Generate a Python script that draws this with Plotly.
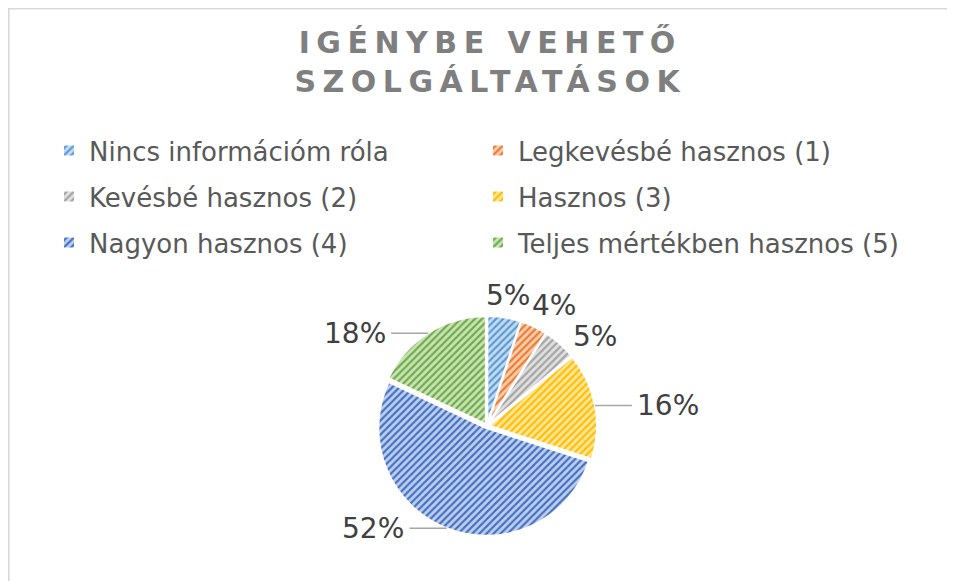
import math
import plotly.graph_objects as go

categories = ["Nincs információm róla", "Legkevésbé hasznos (1)", "Kevésbé hasznos (2)",
              "Hasznos (3)", "Nagyon hasznos (4)", "Teljes mértékben hasznos (5)"]
values = [5, 4, 5, 16, 52, 18]
colors = ["#5b9bd5", "#ed7d31", "#a5a5a5", "#ffc000", "#4472c4", "#70ad47"]
light_colors = ["#c5dcf1", "#f9ceb2", "#e0e0e0", "#ffe6a0", "#c0cfed", "#cbe3bb"]

W, H = 955, 581
cx, cy, r = 479, 418, 110
PULL = 0.02
LABEL_SIZE = 28
LEADER_GAP = 42

fig = go.Figure(go.Pie(
    labels=categories,
    values=values,
    sort=False,
    direction="clockwise",
    rotation=0,
    pull=PULL,
    textinfo="none",
    marker=dict(
        colors=colors,
        line=dict(color="white", width=2),
        pattern=dict(shape="/", fgcolor=colors, bgcolor=light_colors, size=5, solidity=0.45,
                     fillmode="replace"),
    ),
    domain=dict(x=[(cx - r) / W, (cx + r) / W], y=[(H - cy - r) / H, (H - cy + r) / H]),
    hoverinfo="label+percent",
))

# outside percentage labels, placed from each slice's mid-angle (data-driven).
# Small slices: label just outside the rim (nudged clockwise on collision).
# Big slices: label pushed sideways from the rim point, joined by a leader line.
total = sum(values)
r_eff = r / (1 + PULL)
placed = []
annotations = []
leader_shapes = []
cum = 0.0
for v in values:
    mid = (cum + v / 2) / total * 2 * math.pi
    cum += v
    pct = round(v / total * 100)
    txt = f"{pct}%"
    w = len(txt[:-1]) * 0.636 * LABEL_SIZE + 0.95 * LABEL_SIZE
    h = LABEL_SIZE * 1.08
    big = pct >= 10
    th = mid
    for _ in range(90):
        s, c = math.sin(th), math.cos(th)
        if big:
            rx, ry = cx + (r_eff + 2) * s, cy - (r_eff + 2) * c
            px = rx + math.copysign(LEADER_GAP + w / 2, s)
            py = ry
        else:
            d = r_eff + 6 + abs(s) * w / 2 + abs(c) * h / 2
            px, py = cx + d * s, cy - d * c
        if all(abs(px - qx) >= (w + qw) / 2 or abs(py - qy) >= (h + qh) / 2
               for qx, qy, qw, qh in placed):
            break
        th += math.radians(1)
    placed.append((px, py, w, h))
    annotations.append(dict(
        x=px / W, y=1 - py / H, xref="paper", yref="paper",
        text=txt, showarrow=False, xanchor="center", yanchor="middle",
        font=dict(size=LABEL_SIZE, color="#404040", family="DejaVu Sans"),
    ))
    if big:
        ex = px - math.copysign(w / 2 + 5, px - cx)
        leader_shapes.append(dict(
            type="line", xref="paper", yref="paper",
            x0=rx / W, y0=1 - ry / H, x1=ex / W, y1=1 - py / H,
            line=dict(color="#a6a6a6", width=1.5),
        ))

fig.update_layout(
    width=W, height=H,
    margin=dict(l=0, r=0, t=0, b=0),
    paper_bgcolor="white",
    font=dict(family="DejaVu Sans", color="#595959"),
    title=dict(
        text="IGÉNYBE VEHETŐ<br>SZOLGÁLTATÁSOK",
        x=0.505, xanchor="center", y=1 - 45 / H, yanchor="top",
        font=dict(size=30, color="#7f7f7f", family="DejaVu Sans", weight="bold"),
    ),
    legend=dict(
        orientation="h",
        x=41 / W, xanchor="left",
        y=1 - 119 / H, yanchor="top",
        entrywidth=384, entrywidthmode="pixels",
        itemwidth=30,
        font=dict(size=26, color="#595959", family="DejaVu Sans"),
        bgcolor="rgba(0,0,0,0)",
    ),
    showlegend=True,
    annotations=annotations,
    shapes=leader_shapes + [
        dict(type="rect", xref="paper", yref="paper", x0=0.8 / W, x1=1 - 0.8 / W,
             y0=0.8 / H, y1=1 - 0.8 / H, line=dict(color="#d9d9d9", width=1.6)),
    ],
)

post = """
try {
  document.querySelectorAll('.gtitle').forEach(function(e){ e.style.letterSpacing = '6.5px'; });
  var items = Array.prototype.slice.call(document.querySelectorAll('.legend .traces'));
  var re = /translate\\(\\s*([-\\d.]+)[ ,]+([-\\d.]+)\\s*\\)/;
  var ys = [];
  items.forEach(function(it){
    var m = re.exec(it.getAttribute('transform') || '');
    if (m) { var y = parseFloat(m[2]); if (ys.indexOf(y) < 0) ys.push(y); }
  });
  ys.sort(function(a,b){return a-b;});
  var gap = 46;
  items.forEach(function(it){
    var m = re.exec(it.getAttribute('transform') || '');
    if (m) {
      var idx = ys.indexOf(parseFloat(m[2]));
      it.setAttribute('transform', 'translate(' + m[1] + ',' + (ys[0] + idx*gap) + ')');
    }
  });
  document.querySelectorAll('clipPath[id*="legend"] rect').forEach(function(rc){
    rc.setAttribute('height', 400);
  });
} catch (e) {}
"""
fig.write_html("out.html", post_script=post)
